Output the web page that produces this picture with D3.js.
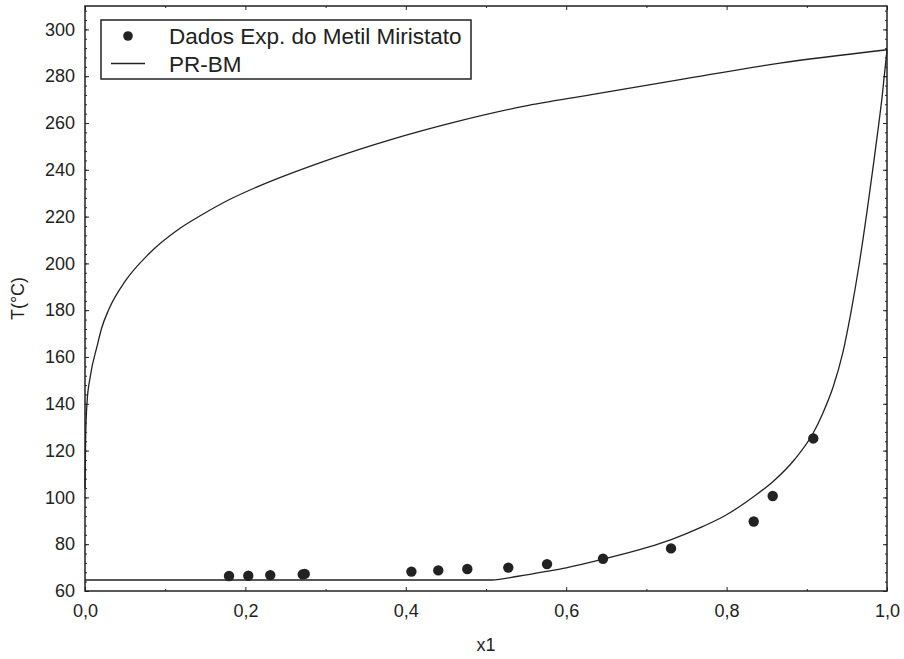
<!DOCTYPE html>
<html>
<head>
<meta charset="utf-8">
<script src="https://cdn.jsdelivr.net/npm/d3@7"></script>
<style>
  body { margin: 0; background: #fff; }
  svg { display: block; font-family: "Liberation Sans", Arial, sans-serif; }
  .tick text { fill: #222; }
</style>
</head>
<body>
<svg id="chart" width="904" height="659"></svg>
<script>
// dados experimentais (x1, T)
const expX = [0.1796, 0.2036, 0.231, 0.2715, 0.274, 0.407, 0.4405, 0.4767, 0.5278, 0.5761, 0.6459, 0.7307, 0.8338, 0.8575, 0.9081];
const expT = [66.4, 66.5, 66.8, 67.1, 67.3, 68.3, 68.8, 69.4, 70.0, 71.5, 73.8, 78.2, 89.7, 100.6, 125.2];

// curva PR-BM - ponto de bolha
const bolhaX = [0.0, 0.507, 0.54, 0.576, 0.6, 0.646, 0.7, 0.731, 0.77, 0.8, 0.834, 0.858, 0.885, 0.908, 0.92, 0.933, 0.945, 0.955, 0.965, 0.975, 0.983, 0.988, 0.994, 1.0];
const bolhaT = [64.7, 64.7, 66.3, 68.4, 69.9, 73.6, 78.5, 82.0, 87.5, 92.6, 100.4, 106.8, 116.3, 127.5, 136, 147.4, 162, 179, 199, 222, 242, 255, 271.5, 291.3];

// curva PR-BM - ponto de orvalho
const orvalhoX = [0.0, 0.0008, 0.0025, 0.0066, 0.015, 0.0207, 0.0295, 0.0503, 0.0794, 0.1185, 0.1459, 0.1808, 0.214, 0.297, 0.3803, 0.4634, 0.5465, 0.6297, 0.7419, 0.8666, 1.0];
const orvalhoT = [104, 125, 140.4, 151.7, 164.5, 172.3, 180.2, 192.5, 204, 215, 220.8, 227.4, 232.6, 243.5, 252.8, 260.6, 267.1, 272, 278.5, 285.6, 291.3];

const xTicks = [0, 0.2, 0.4, 0.6, 0.8, 1.0];
const yTicks = d3.range(60, 301, 20);

const svg = d3.select("#chart");
const mLeft = 85, mRight = 887, mTop = 6, mBottom = 591;
const ink = "#222";

const x = d3.scaleLinear().domain([0, 1]).range([mLeft, mRight]);
const y = d3.scaleLinear().domain([60, 310]).range([mBottom, mTop]);

const fmt = d => d.toFixed(1).replace(".", ",");

// eixos com marcas para dentro
function styleAxis(g) {
    g.select(".domain").remove();
    g.selectAll(".tick line").attr("stroke", ink).attr("stroke-width", 1);
    g.selectAll(".tick text").attr("font-size", 18);
}

svg.append("g")
    .attr("transform", `translate(0,${mBottom})`)
    .call(d3.axisBottom(x).tickValues(d3.range(0.1, 1, 0.2)).tickSize(-2).tickFormat(""))
    .call(styleAxis);
svg.append("g")
    .attr("transform", `translate(0,${mBottom})`)
    .call(d3.axisBottom(x).tickValues(xTicks).tickSize(-4).tickPadding(13).tickFormat(fmt))
    .call(styleAxis);
svg.append("g")
    .attr("transform", `translate(0,${mTop})`)
    .call(d3.axisTop(x).tickValues(d3.range(0.1, 1, 0.2)).tickSize(-2).tickFormat(""))
    .call(styleAxis);
svg.append("g")
    .attr("transform", `translate(0,${mTop})`)
    .call(d3.axisTop(x).tickValues(xTicks).tickSize(-4).tickFormat(""))
    .call(styleAxis);

svg.append("g")
    .attr("transform", `translate(${mLeft},0)`)
    .call(d3.axisLeft(y).tickValues(d3.range(60, 311, 4)).tickSize(-2).tickFormat(""))
    .call(styleAxis);
svg.append("g")
    .attr("transform", `translate(${mLeft},0)`)
    .call(d3.axisLeft(y).tickValues(yTicks).tickSize(-4).tickPadding(10))
    .call(styleAxis);
svg.append("g")
    .attr("transform", `translate(${mRight},0)`)
    .call(d3.axisRight(y).tickValues(d3.range(60, 311, 4)).tickSize(-2).tickFormat(""))
    .call(styleAxis);
svg.append("g")
    .attr("transform", `translate(${mRight},0)`)
    .call(d3.axisRight(y).tickValues(yTicks).tickSize(-4).tickFormat(""))
    .call(styleAxis);

// moldura
svg.append("rect")
    .attr("x", mLeft).attr("y", mTop)
    .attr("width", mRight - mLeft).attr("height", mBottom - mTop)
    .attr("fill", "none").attr("stroke", ink).attr("stroke-width", 1.5);

// curvas
const line = d3.line()
    .x(d => x(d[0]))
    .y(d => y(d[1]))
    .curve(d3.curveMonotoneX);

[[bolhaX, bolhaT], [orvalhoX, orvalhoT]].forEach(([xs, ts]) => {
    svg.append("path")
        .datum(xs.map((v, i) => [v, ts[i]]))
        .attr("d", line)
        .attr("fill", "none")
        .attr("stroke", ink)
        .attr("stroke-width", 1.3);
});

// pontos experimentais
svg.selectAll("circle.exp")
    .data(expX.map((v, i) => [v, expT[i]]))
    .enter()
    .append("circle")
    .attr("class", "exp")
    .attr("cx", d => x(d[0]))
    .attr("cy", d => y(d[1]))
    .attr("r", 5.2)
    .attr("fill", ink);

// titulos dos eixos
svg.append("text")
    .attr("x", (mLeft + mRight) / 2)
    .attr("y", 651)
    .attr("text-anchor", "middle")
    .attr("font-size", 18)
    .attr("fill", ink)
    .text("x1");

svg.append("text")
    .attr("transform", `translate(24,${(mTop + mBottom) / 2}) rotate(-90)`)
    .attr("text-anchor", "middle")
    .attr("font-size", 18)
    .attr("fill", ink)
    .text("T(°C)");

// legenda
const legend = svg.append("g");
legend.append("rect")
    .attr("x", 101).attr("y", 20)
    .attr("width", 370).attr("height", 59)
    .attr("fill", "#fff").attr("stroke", ink).attr("stroke-width", 1.5);
legend.append("circle")
    .attr("cx", 128).attr("cy", 36).attr("r", 4.8).attr("fill", ink);
legend.append("line")
    .attr("x1", 111).attr("x2", 145).attr("y1", 63.5).attr("y2", 63.5)
    .attr("stroke", ink).attr("stroke-width", 1.3);
legend.append("text")
    .attr("x", 169).attr("y", 44)
    .attr("font-size", 22.5).attr("fill", ink)
    .text("Dados Exp. do Metil Miristato");
legend.append("text")
    .attr("x", 169).attr("y", 71.5)
    .attr("font-size", 22.5).attr("fill", ink)
    .text("PR-BM");
</script>
</body>
</html>
